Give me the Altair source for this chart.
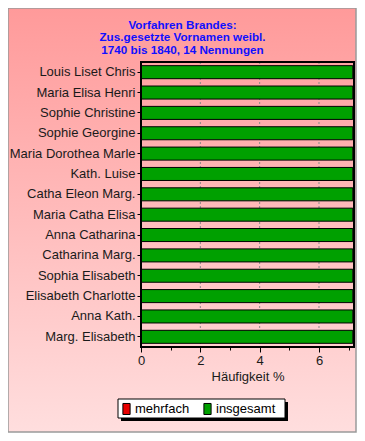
import altair as alt
import pandas as pd

names = ["Louis Liset Chris", "Maria Elisa Henri", "Sophie Christine", "Sophie Georgine",
         "Maria Dorothea Marle", "Kath. Luise", "Catha Eleon Marg.", "Maria Catha Elisa",
         "Anna Catharina", "Catharina Marg.", "Sophia Elisabeth", "Elisabeth Charlotte",
         "Anna Kath.", "Marg. Elisabeth"]
insgesamt = [7.14] * 14
mehrfach = [0.0] * 14
series = ["mehrfach", "insgesamt"]
series_colors = ["#e80000", "#00a000"]
title_lines = ["Vorfahren Brandes:", "Zus.gesetzte Vornamen weibl.", "1740 bis 1840, 14 Nennungen"]
x_ticks = [i * 0.5 for i in range(15)]
grid_values = [2, 4, 6]

rows = []
for n, v in zip(names, insgesamt):
    rows.append({"name": n, "serie": "insgesamt", "wert": v})
for n, v in zip(names, mehrfach):
    rows.append({"name": n, "serie": "mehrfach", "wert": v})
df = pd.DataFrame(rows)

W, H = 213, 285
FONT = "Liberation Sans"
one = pd.DataFrame({"a": [0]})

bg = alt.Chart(one).mark_rect(
    fill=alt.Gradient(gradient="linear", x1=0, y1=0, x2=0, y2=1,
                      stops=[alt.GradientStop(color="#ff9a9a", offset=0),
                             alt.GradientStop(color="#ffdede", offset=1)]),
    stroke="#9a9a9a", strokeWidth=1.5
).encode(x=alt.value(-133), x2=alt.value(215), y=alt.value(-54), y2=alt.value(370))

xscale = alt.Scale(domain=[0, 7.18], nice=False, zero=True)
xaxis = alt.Axis(values=x_ticks, format="d", labelFlush=False,
                 labelExpr="datum.value % 2 == 0 ? format(datum.value, 'd') : ''",
                 labelFont=FONT, labelFontSize=13, labelColor="#1a1a1a",
                 labelPadding=2, tickColor="black",
                 tickSize=alt.ConditionalAxisNumber(condition={"test": "datum.value % 2 == 0", "value": 5}, value=3),
                 domain=False, grid=False, zindex=1,
                 titleFont=FONT, titleFontSize=13, titleFontWeight="normal",
                 titleColor="#1a1a1a", titlePadding=3)

grid = alt.Chart(pd.DataFrame({"g": grid_values})).mark_rule(
    color="#8a8a8a", strokeDash=[2, 2], strokeWidth=1
).encode(x=alt.X("g:Q", scale=xscale, axis=xaxis, title="Häufigkeit %"),
         y=alt.value(0), y2=alt.value(H))

legend_shadow = alt.Chart(one).mark_rect(fill="black").encode(
    x=alt.value(-20), x2=alt.value(147), y=alt.value(340), y2=alt.value(359))
legend_box = alt.Chart(one).mark_rect(fill="white", stroke="black", strokeWidth=1).encode(
    x=alt.value(-23), x2=alt.value(144), y=alt.value(337), y2=alt.value(356))

bars = alt.Chart(df).mark_bar(stroke="black", strokeWidth=1).encode(
    y=alt.Y("name:N", sort=names, title=None,
            scale=alt.Scale(paddingInner=0.36, paddingOuter=0.18),
            axis=alt.Axis(labelFont=FONT, labelFontSize=13, labelColor="#1a1a1a",
                          tickColor="black", tickSize=4, labelPadding=2, domain=False,
                          zindex=1)),
    x=alt.X("wert:Q", stack=None, title="Häufigkeit %", scale=xscale, axis=xaxis),
    color=alt.Color("serie:N", scale=alt.Scale(domain=series, range=series_colors),
                    legend=alt.Legend(title=None, orient="none", direction="horizontal",
                                      legendX=-21, legendY=340, padding=0,
                                      columnPadding=11,
                                      symbolType="M-0.6,-0.92H0.6V0.92H-0.6Z",
                                      symbolSize=144, symbolStrokeColor="black",
                                      symbolStrokeWidth=1, symbolOpacity=1,
                                      labelFont=FONT, labelFontSize=13, labelColor="black",
                                      labelOffset=2, zindex=1)),
    order=alt.Order("serie:N", sort="ascending"),
)

frame = alt.Chart(one).mark_rect(fill=None, stroke="black", strokeWidth=2).encode(
    x=alt.value(0), x2=alt.value(W), y=alt.value(0), y2=alt.value(H))

chart = alt.layer(bg, grid, legend_shadow, legend_box, bars, frame).properties(
    width=W, height=H,
    autosize=alt.AutoSizeParams(type="none"),
    padding={"left": 133, "top": 54, "right": 3, "bottom": 86},
    title=alt.Title(title_lines, anchor="middle", frame="group", dx=-65, fontSize=11.7,
                    fontWeight="bold", font=FONT, color="#1010ff", lineHeight=12.3,
                    offset=-49),
).configure_view(stroke=None, fill=None).configure(background="white")

chart.save("out.html", embed_options={"renderer": "svg", "actions": False})
